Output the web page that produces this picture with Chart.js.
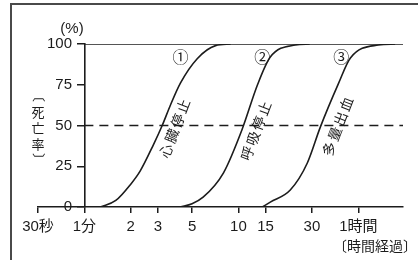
<!DOCTYPE html>
<html>
<head>
<meta charset="utf-8">
<script src="https://cdn.jsdelivr.net/npm/chart.js@4"></script>
<style>
  html, body { margin: 0; padding: 0; background: #fff; }
  #wrap { position: relative; width: 418px; height: 260px; overflow: hidden; }
  #frame { position: absolute; left: 10px; top: 3px; width: 420px; height: 270px; border-left: 2px solid #4a4a4a; border-top: 2px solid #4a4a4a; }
  canvas { position: absolute; left: 0; top: 0; }
</style>
</head>
<body>
<div id="wrap">
  <div id="frame"></div>
  <canvas id="chart" width="418" height="260"></canvas>
</div>
<script>
// time axis (minutes, log scale)
const timeTicks = [0.5, 1, 2, 3, 5, 10, 15, 30, 60];
const timeLabels = ['30秒', '1分', '2', '3', '5', '10', '15', '30', '1時間'];
const rateTicks = [0, 25, 50, 75, 100];

// ① 心臓停止
const cardiacT = [1.27, 1.6, 2.0, 2.3, 2.8, 3.2, 3.6, 4.2, 5.4, 7.1, 8.9];
const cardiacRate = [0, 4, 14, 22, 38, 50, 62, 76, 91, 99, 100];
// ② 呼吸停止
const breathT = [4.2, 5.0, 5.9, 8.0, 10.6, 13.3, 16.1, 23.4, 29];
const breathRate = [0, 2, 6, 21, 48, 75, 92, 99.4, 100];
// ③ 多量出血
const bleedT = [14.3, 16.1, 21.7, 28, 34, 44.5, 53.3, 81, 104];
const bleedRate = [0, 3, 10.4, 27, 49, 75.5, 91.4, 99.4, 100];

const ink = '#1c1c1c';
const font = "'Liberation Sans', 'Noto Sans CJK JP', sans-serif";
const xMin = 0.5, xMax = 117;

function toPoints(ts, vs) {
    return ts.map((t, i) => ({x: t, y: vs[i]}));
}

function curve(ts, vs) {
    return {
        data: toPoints(ts, vs),
        borderColor: ink,
        borderWidth: 1.6,
        pointRadius: 0,
        cubicInterpolationMode: 'monotone',
        fill: false
    };
}

// labels placed in data coordinates
const curveNames = [
    {text: '心臓停止', t: 3.95, v: 48.5},
    {text: '呼吸停止', t: 13.3, v: 47},
    {text: '多量出血', t: 45.2, v: 49.7}
];
const curveMarks = [
    {text: '①', t: 4.2, v: 90.8},
    {text: '②', t: 14.3, v: 90.8},
    {text: '③', t: 46.5, v: 90.8}
];

// draws a glyph turned 90deg with its ink centred on (cx, cy)
function turnedGlyph(ctx, c, cx, cy) {
    ctx.save();
    ctx.translate(cx, cy);
    ctx.rotate(Math.PI / 2);
    ctx.textAlign = 'left';
    ctx.textBaseline = 'alphabetic';
    const m = ctx.measureText(c);
    const dx = (m.actualBoundingBoxRight - m.actualBoundingBoxLeft) / 2;
    const dy = (m.actualBoundingBoxDescent - m.actualBoundingBoxAscent) / 2;
    ctx.fillText(c, -dx, -dy);
    ctx.restore();
}

const notes = {
    id: 'notes',
    afterDraw(chart) {
        const {ctx, scales: {x, y}} = chart;
        ctx.save();
        ctx.fillStyle = ink;
        ctx.textAlign = 'center';
        ctx.textBaseline = 'middle';

        ctx.font = '15px ' + font;
        ctx.fillText('(%)', 72, 29);

        // vertical 〔死亡率〕
        ctx.font = "13px 'Noto Sans CJK JP', sans-serif";
        [['死', 112], ['亡', 128], ['率', 144]].forEach(([c, cy]) => ctx.fillText(c, 38, cy));
        turnedGlyph(ctx, '〔', 38, 100);
        turnedGlyph(ctx, '〕', 38, 155);

        ctx.font = '16px ' + font;
        curveMarks.forEach(m => ctx.fillText(m.text, x.getPixelForValue(m.t), y.getPixelForValue(m.v)));

        ctx.font = '14px ' + font;
        curveNames.forEach(n => {
            ctx.save();
            ctx.translate(x.getPixelForValue(n.t), y.getPixelForValue(n.v));
            ctx.rotate(-69 * Math.PI / 180);
            ctx.letterSpacing = '2px';
            ctx.fillText(n.text, 0, 0);
            ctx.restore();
        });

        ctx.font = '14px ' + font;
        ctx.textAlign = 'right';
        ctx.fillText('〔時間経過〕', 417, 247);
        ctx.restore();
    }
};

new Chart(document.getElementById('chart'), {
    type: 'line',
    data: {
        datasets: [
            {
                data: [{x: 1, y: 100}, {x: xMax, y: 100}],
                borderColor: ink, borderWidth: 1.6, pointRadius: 0
            },
            {
                data: [{x: 1, y: 50}, {x: xMax, y: 50}],
                borderColor: ink, borderWidth: 1.3, pointRadius: 0, borderDash: [9, 6]
            },
            curve(cardiacT, cardiacRate),
            curve(breathT, breathRate),
            curve(bleedT, bleedRate)
        ]
    },
    options: {
        responsive: false,
        animation: false,
        devicePixelRatio: 1,
        layout: {padding: {left: 0, right: 15, top: 44, bottom: 0}},
        plugins: {legend: {display: false}, tooltip: {enabled: false}},
        scales: {
            x: {
                type: 'logarithmic',
                min: xMin,
                max: xMax,
                afterBuildTicks: s => { s.ticks = timeTicks.map(v => ({value: v})); },
                afterFit: s => { s.height = 53; },
                ticks: {
                    callback: (v, i) => timeLabels[i],
                    autoSkip: false,
                    maxRotation: 0,
                    padding: 5,
                    color: ink,
                    font: {family: font, size: 15}
                },
                grid: {drawOnChartArea: false, tickLength: 6, color: ink, lineWidth: 1.5},
                border: {color: ink, width: 1.6}
            },
            // axis line and tick marks at 1分
            y: {
                type: 'linear',
                min: 0,
                max: 100,
                position: {x: 1},
                afterBuildTicks: s => { s.ticks = rateTicks.map(v => ({value: v})); },
                ticks: {display: false},
                grid: {drawOnChartArea: false, tickLength: 7, color: ink, lineWidth: 1.5},
                border: {color: ink, width: 1.6}
            },
            // tick labels for the same scale
            yText: {
                type: 'linear',
                axis: 'y',
                min: 0,
                max: 100,
                position: 'left',
                afterBuildTicks: s => { s.ticks = rateTicks.map(v => ({value: v})); },
                afterFit: s => { s.width = 38; },
                ticks: {
                    mirror: true,
                    crossAlign: 'far',
                    padding: 9,
                    color: ink,
                    font: {family: font, size: 15}
                },
                grid: {drawOnChartArea: false, drawTicks: false},
                border: {display: false}
            }
        }
    },
    plugins: [notes]
});
</script>
</body>
</html>
